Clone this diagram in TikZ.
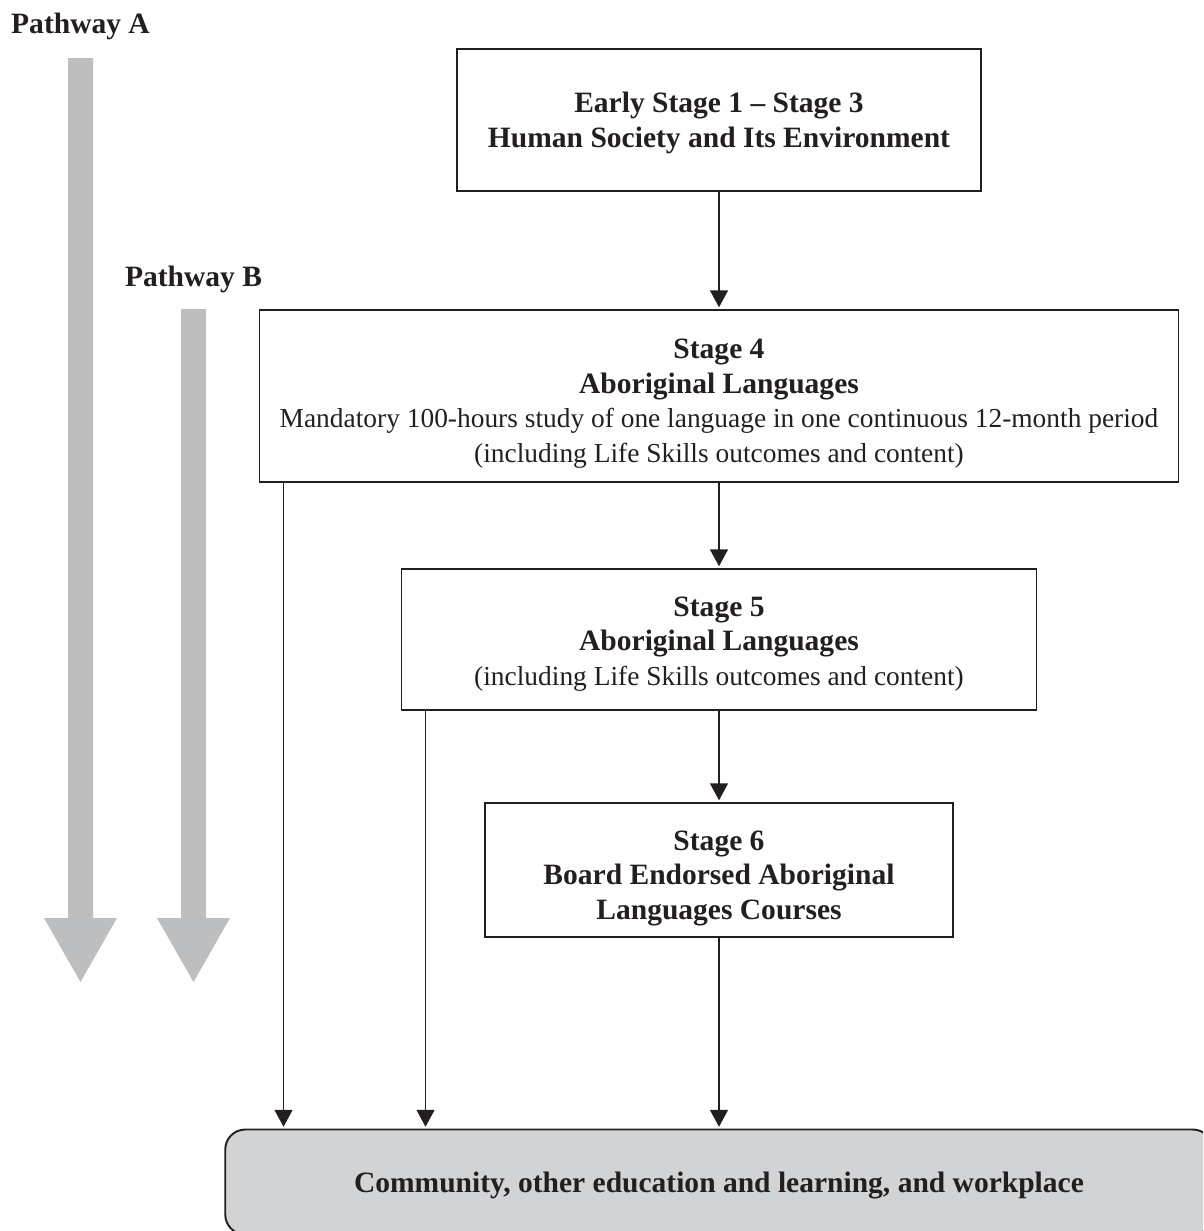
\documentclass[tikz,border=0pt]{standalone}
\usepackage{fontspec}
\setmainfont{Liberation Serif}
\usetikzlibrary{positioning, arrows.meta}
\definecolor{inkcol}{RGB}{35,31,32}
\definecolor{pathcol}{RGB}{188,190,192}
\definecolor{fillcol}{RGB}{209,211,212}
\newcommand{\headtext}{\fontsize{16.8pt}{19.6pt}\selectfont\bfseries}
\newcommand{\bodytext}{\fontsize{15.6pt}{19.6pt}\selectfont}

\begin{document}
\begin{tikzpicture}[
			shorten >=1pt,
			node distance=5cm,
			on grid,
			stage/.style={
				draw=inkcol,
				rectangle,
				line width=1.1pt,
				align=center,
				text=inkcol,
				font=\bodytext,
				inner sep=0pt
			},
			outcome/.style={
				stage,
				rounded corners=4mm,
				fill=fillcol,
				font=\headtext
			},
			link/.style={
				draw=inkcol,
				->,
				>={Triangle[length=3.4mm,width=3.6mm]},
				line width=0.9pt
			},
			pathway/.style={
				fill=pathcol
			},
			pathlabel/.style={
				font=\headtext,
				text=inkcol,
				anchor=base
			}
			]
			\useasboundingbox (0,0) rectangle (24.06,-24.62);
			\clip (0,0) rectangle (24.06,-24.62);
			
			% Pathways
			\fill[pathway] (1.36,-1.16) -- (1.86,-1.16) -- (1.86,-18.36) -- (2.34,-18.36)
				-- (1.61,-19.64) -- (0.88,-18.36) -- (1.36,-18.36) -- cycle;
			\fill[pathway] (3.62,-6.18) -- (4.12,-6.18) -- (4.12,-18.36) -- (4.60,-18.36)
				-- (3.87,-19.64) -- (3.14,-18.36) -- (3.62,-18.36) -- cycle;
			\node[pathlabel] (pathA) at (1.61,-0.66) {Pathway A};
			\node[pathlabel] (pathB) at (3.87,-5.72) {Pathway B};
			
			% Stages
			\node[stage, minimum width=10.48cm, text height=1.96cm, text depth=0.88cm] (es) at (14.38,-2.40)
				{{\headtext Early Stage 1 – Stage 3}\\{\headtext Human Society and Its Environment}};
			\node[stage, minimum width=18.38cm, text height=3.04cm, text depth=0.40cm] (s4) [below=5.52cm of es]
				{{\headtext Stage 4}\\{\headtext Aboriginal Languages}\\Mandatory 100-hours study of one language in one continuous 12-month period\\(including Life Skills outcomes and content)};
			\node[stage, minimum width=12.7cm, text height=2.32cm, text depth=0.50cm] (s5) [below=4.87cm of s4]
				{{\headtext Stage 5}\\{\headtext Aboriginal Languages}\\(including Life Skills outcomes and content)};
			\node[stage, minimum width=9.36cm, text height=2.32cm, text depth=0.36cm] (s6) [below=4.61cm of s5]
				{{\headtext Stage 6}\\{\headtext Board Endorsed Aboriginal}\\{\headtext Languages Courses}};
			\node[outcome, minimum width=19.75cm, text height=1.26cm, text depth=0.84cm] (out) [below=6.24cm of s6]
				{Community, other education and learning, and workplace};
			
			% Transitions
			\draw[link] (es) -- (s4);
			\draw[link] (s4) -- (s5);
			\draw[link] (s5) -- (s6);
			\draw[link] (s6) -- (out);
			\draw[link] ([xshift=5mm]s4.south west) -- ([xshift=5mm]s4.south west |- out.north);
			\draw[link] ([xshift=5mm]s5.south west) -- ([xshift=5mm]s5.south west |- out.north);
		\end{tikzpicture}
\end{document}
